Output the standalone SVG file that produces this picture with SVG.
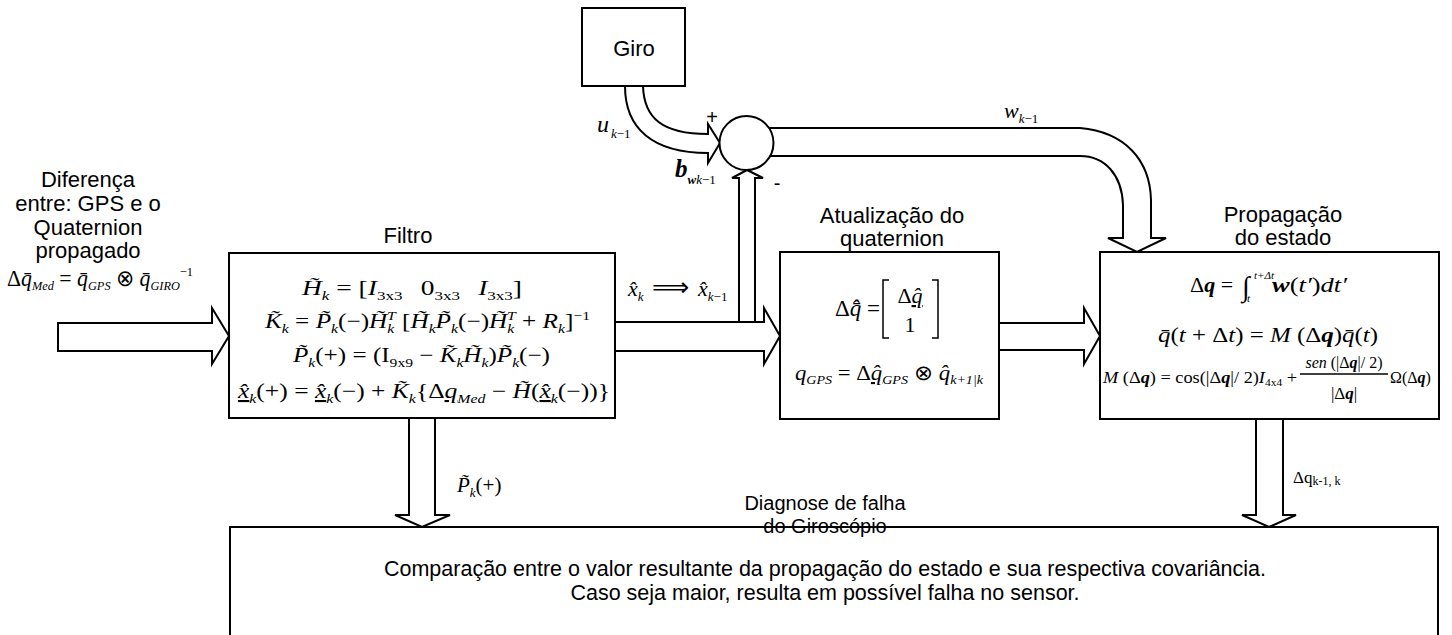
<svg xmlns="http://www.w3.org/2000/svg" width="1452" height="635" viewBox="0 0 1452 635">
<style>
.box{fill:#fff;stroke:#000;stroke-width:2}
.arr{fill:#fff;stroke:#000;stroke-width:2;stroke-linejoin:miter}
.ln{fill:none;stroke:#000;stroke-width:1.5}
.lbl{font-family:"Liberation Sans",Arial,sans-serif;font-size:22px;text-anchor:middle;fill:#000}
.m{font-family:"Liberation Serif","Times New Roman",serif;font-size:21px;fill:#000}
.i{font-style:italic}
.b{font-weight:bold}
.s{font-size:13px}
.u{text-decoration:underline}
</style>
<rect width="1452" height="635" fill="#fff"/>

<g id="connectors">
  <polygon class="arr" points="58,323 212,323 212,308 229,336 212,364 212,351 58,351"/>
  <polygon class="arr" points="615,322 764,322 764,308 780,336 764,364 764,351 615,351"/>
  <polygon class="arr" points="739,322 739,178 732,178 747,170 763,178 755,178 755,322"/>
  <polygon class="arr" points="999,323 1084,323 1084,308 1100,336 1084,364 1084,350 999,350"/>
  <path class="arr" d="M643,86 C644,118 662,134 708,134 L708,124 L720,143 L708,163 L708,153 C652,153 625,128 625,86"/>
  <path class="arr" d="M760,128 L1080,128 C1125,132 1150,160 1151,200 L1151,238 L1166,238 L1137,252 L1108,238 L1123,238 L1123,205 C1122,175 1105,156 1080,156 L760,156 Z"/>
  <polygon class="arr" points="409,418 409,515 395,515 422,527 450,515 435,515 435,418"/>
  <polygon class="arr" points="1256,419 1256,515 1242,515 1269,527 1296,515 1283,515 1283,419"/>

  <text class="m" x="597" y="132"><tspan class="i" style="font-size:24px">u</tspan><tspan class="s i" dx="2" dy="6">k</tspan><tspan class="s">−1</tspan></text>
  <text class="m" x="675" y="177"><tspan class="b i" style="font-size:25px">b</tspan><tspan class="b i s" dy="7">w</tspan><tspan class="s i">k</tspan><tspan class="s">−1</tspan></text>
  <text class="lbl" x="712" y="124" style="font-size:20px">+</text>
  <text class="lbl" x="777" y="190" style="font-size:20px">-</text>
  <text class="m" x="1004" y="118"><tspan class="i" style="font-size:22px">w</tspan><tspan class="s i" dy="5">k</tspan><tspan class="s">−1</tspan></text>
  <text class="m" x="628" y="296"><tspan class="i" style="font-size:22px">x&#x302;</tspan><tspan class="s i" dy="5">k</tspan></text>
  <text x="652" y="296" style="font-family:'DejaVu Sans',sans-serif;font-size:26px">⟹</text>
  <text class="m" x="698" y="296"><tspan class="i" style="font-size:22px">x&#x302;</tspan><tspan class="s i" dy="5">k</tspan><tspan class="s">−1</tspan></text>
  <text class="m" x="457" y="492"><tspan class="i">P&#x303;</tspan><tspan class="s i" dy="5">k</tspan><tspan dy="-5">(+)</tspan></text>
  <text class="m" x="1293" y="483" style="font-size:17px">Δq<tspan style="font-size:12px" dy="2">k-1, k</tspan></text>
</g>

<g id="giro">
  <rect class="box" x="582" y="8" width="103" height="78"/>
  <text class="lbl" x="634" y="56">Giro</text>
</g>

<g id="somador">
  <circle class="box" cx="746.5" cy="143" r="27"/>
</g>

<g id="entrada">
  <text class="lbl" x="88" y="187">Diferença</text>
  <text class="lbl" x="88" y="211">entre: GPS e o</text>
  <text class="lbl" x="88" y="235">Quaternion</text>
  <text class="lbl" x="88" y="258">propagado</text>
  <text class="m" x="7" y="286" style="font-size:23px" textLength="186" lengthAdjust="spacingAndGlyphs">Δ<tspan class="i">q&#x304;</tspan><tspan class="s i" dy="4">Med</tspan><tspan dy="-4"> = </tspan><tspan class="i">q&#x304;</tspan><tspan class="s i" dy="4">GPS</tspan><tspan dy="-4"> ⊗ </tspan><tspan class="i">q&#x304;</tspan><tspan class="s i" dy="4">GIRO</tspan><tspan class="s" dy="-14">−1</tspan></text>
</g>

<g id="filtro">
  <text class="lbl" x="408" y="243">Filtro</text>
  <rect class="box" x="229" y="253" width="386" height="165"/>
  <text class="m" x="302" y="295" textLength="220" lengthAdjust="spacingAndGlyphs"><tspan class="i">H&#x303;</tspan><tspan class="s i" dy="5">k</tspan><tspan dy="-5"> = [</tspan><tspan class="i">I</tspan><tspan class="s" dy="5">3x3</tspan><tspan dx="14" dy="-5">0</tspan><tspan class="s" dy="5">3x3</tspan><tspan class="i" dx="14" dy="-5">I</tspan><tspan class="s" dy="5">3x3</tspan><tspan dy="-5">]</tspan></text>
  <text class="m" x="265" y="328" textLength="325" lengthAdjust="spacingAndGlyphs"><tspan class="i">K&#x303;</tspan><tspan class="s i" dy="5">k</tspan><tspan dy="-5"> = </tspan><tspan class="i">P&#x303;</tspan><tspan class="s i" dy="5">k</tspan><tspan dy="-5">(−)</tspan><tspan class="i">H&#x303;</tspan><tspan class="s i" dy="5">k</tspan><tspan class="s i" dx="-6" dy="-13">T</tspan><tspan dy="8"> [</tspan><tspan class="i">H&#x303;</tspan><tspan class="s i" dy="5">k</tspan><tspan class="i" dy="-5">P&#x303;</tspan><tspan class="s i" dy="5">k</tspan><tspan dy="-5">(−)</tspan><tspan class="i">H&#x303;</tspan><tspan class="s i" dy="5">k</tspan><tspan class="s i" dx="-6" dy="-13">T</tspan><tspan dy="8"> + </tspan><tspan class="i">R</tspan><tspan class="s i" dy="5">k</tspan><tspan dy="-5">]</tspan><tspan class="s" dy="-8">−1</tspan></text>
  <text class="m" x="293" y="362" textLength="257" lengthAdjust="spacingAndGlyphs"><tspan class="i">P&#x303;</tspan><tspan class="s i" dy="5">k</tspan><tspan dy="-5">(+) = (I</tspan><tspan class="s" dy="5">9x9</tspan><tspan dy="-5"> − </tspan><tspan class="i">K&#x303;</tspan><tspan class="s i" dy="5">k</tspan><tspan class="i" dy="-5">H&#x303;</tspan><tspan class="s i" dy="5">k</tspan><tspan dy="-5">)</tspan><tspan class="i">P&#x303;</tspan><tspan class="s i" dy="5">k</tspan><tspan dy="-5">(−)</tspan></text>
  <text class="m" x="238" y="398" textLength="372" lengthAdjust="spacingAndGlyphs"><tspan class="i u">x&#x302;</tspan><tspan class="s i" dy="5">k</tspan><tspan dy="-5">(+) = </tspan><tspan class="i u">x&#x302;</tspan><tspan class="s i" dy="5">k</tspan><tspan dy="-5">(−) + </tspan><tspan class="i">K&#x303;</tspan><tspan class="s i" dy="5">k</tspan><tspan dy="-5">{Δ</tspan><tspan class="i u">q</tspan><tspan class="s i" dy="5">Med</tspan><tspan dy="-5"> − </tspan><tspan class="i">H&#x303;</tspan><tspan>(</tspan><tspan class="i u">x&#x302;</tspan><tspan class="s i" dy="5">k</tspan><tspan dy="-5">(−))}</tspan></text>
</g>

<g id="atualizacao">
  <text class="lbl" x="892" y="223">Atualização do</text>
  <text class="lbl" x="892" y="246">quaternion</text>
  <rect class="box" x="780" y="252" width="219" height="167"/>
  <text class="m" x="835" y="316" style="font-size:23px">Δ<tspan class="i">q&#x302;&#x304;</tspan> =</text>
  <path class="ln" d="M889,280 H883 V338 H889 M932,280 H938 V338 H932"/>
  <text class="m" x="910" y="303" text-anchor="middle" style="font-size:22px">Δ<tspan class="i u">q&#x302;</tspan></text>
  <text class="m" x="910" y="332" text-anchor="middle" style="font-size:22px">1</text>
  <text class="m" x="795" y="380" textLength="188" lengthAdjust="spacingAndGlyphs"><tspan class="i">q</tspan><tspan class="s i" dy="4">GPS</tspan><tspan dy="-4"> = Δ</tspan><tspan class="i u">q&#x302;</tspan><tspan class="s i" dy="4">GPS</tspan><tspan dy="-4"> ⊗ </tspan><tspan class="i">q&#x302;</tspan><tspan class="s i" dy="4">k+1|k</tspan></text>
</g>

<g id="propagacao">
  <text class="lbl" x="1283" y="222">Propagação</text>
  <text class="lbl" x="1283" y="245">do estado</text>
  <rect class="box" x="1100" y="252" width="339" height="167"/>
  <text class="m" x="1190" y="292" style="font-size:22px">Δ<tspan class="b i">q</tspan> =</text>
  <text class="m" x="1242" y="296" style="font-size:28px">∫</text>
  <text class="m i" x="1254" y="279" style="font-size:11px">t+Δt</text>
  <text class="m i" x="1247" y="302" style="font-size:11px">t</text>
  <text class="m" x="1272" y="292" style="font-size:22px" textLength="75" lengthAdjust="spacingAndGlyphs"><tspan class="b i">w</tspan>(<tspan class="i">t′</tspan>)<tspan class="i">dt′</tspan></text>
  <text class="m" x="1158" y="342" style="font-size:22px" textLength="220" lengthAdjust="spacingAndGlyphs"><tspan class="i">q&#x304;</tspan>(<tspan class="i">t</tspan> + Δ<tspan class="i">t</tspan>) = <tspan class="i">M</tspan> (Δ<tspan class="b i">q</tspan>)<tspan class="i">q&#x304;</tspan>(<tspan class="i">t</tspan>)</text>
  <text class="m" x="1103" y="383" style="font-size:16px" textLength="194" lengthAdjust="spacingAndGlyphs"><tspan class="i">M</tspan> (Δ<tspan class="b i">q</tspan>) = cos(|Δ<tspan class="b i">q</tspan>|/ 2)<tspan class="i">I</tspan><tspan style="font-size:10px" dy="3">4x4</tspan><tspan dy="-3"> +</tspan></text>
  <text class="m" x="1344" y="368" text-anchor="middle" style="font-size:16px"><tspan class="i">sen</tspan> (|Δ<tspan class="b i">q</tspan>|/ 2)</text>
  <line class="ln" x1="1300" y1="374" x2="1388" y2="374"/>
  <text class="m" x="1344" y="399" text-anchor="middle" style="font-size:17px">|Δ<tspan class="b i">q</tspan>|</text>
  <text class="m" x="1390" y="383" style="font-size:16px">Ω(Δ<tspan class="b i">q</tspan>)</text>
</g>

<g id="diagnose">
  <text class="lbl" x="825" y="510" style="font-size:20px">Diagnose de falha</text>
  <rect class="box" x="230" y="527" width="1208" height="130"/>
  <text class="lbl" x="825" y="533" style="font-size:20px">do Giroscópio</text>
  <text class="lbl" x="825" y="576" style="font-size:21.5px">Comparação entre o valor resultante da propagação do estado e sua respectiva covariância.</text>
  <text class="lbl" x="825" y="600" style="font-size:21.5px">Caso seja maior, resulta em possível falha no sensor.</text>
</g>
</svg>
